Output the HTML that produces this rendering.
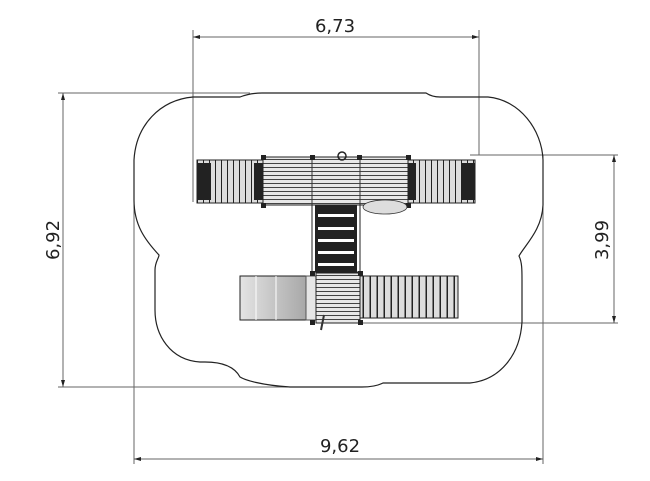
<!DOCTYPE html>
<html><head><style>html,body{margin:0;padding:0;background:#fff}svg{display:block}text{font-family:"DejaVu Sans","Liberation Sans",sans-serif;font-size:18px;fill:#222}</style></head><body>
<svg width="650" height="481" viewBox="0 0 650 481" xmlns="http://www.w3.org/2000/svg">
<defs>
<linearGradient id="sg" x1="0" x2="1"><stop offset="0" stop-color="#e4e4e4"/><stop offset="1" stop-color="#a8a8a8"/></linearGradient>
<pattern id="hs" width="4" height="4" patternUnits="userSpaceOnUse"><rect width="4" height="4" fill="#e8e8e8"/><rect y="3" width="4" height="1" fill="#444"/></pattern>
<pattern id="vs" width="6" height="6" patternUnits="userSpaceOnUse"><rect width="6" height="6" fill="#ddd"/><rect x="5" width="1.3" height="6" fill="#222"/></pattern>
<pattern id="vs2" width="7" height="7" patternUnits="userSpaceOnUse"><rect width="7" height="7" fill="#ddd"/><rect x="5.5" width="1.5" height="7" fill="#222"/></pattern>
</defs>
<g stroke="#666" stroke-width="1" fill="none">
<line x1="193" y1="37" x2="479" y2="37"/>
<line x1="193" y1="30" x2="193" y2="202"/>
<line x1="479" y1="30" x2="479" y2="155"/>
<line x1="63" y1="93" x2="63" y2="387"/>
<line x1="58" y1="93" x2="250" y2="93"/>
<line x1="58" y1="387" x2="295" y2="387"/>
<line x1="614" y1="155" x2="614" y2="323"/>
<line x1="470" y1="155" x2="618" y2="155"/>
<line x1="360" y1="323" x2="618" y2="323"/>
<line x1="134" y1="459" x2="543" y2="459"/>
<line x1="134" y1="200" x2="134" y2="464"/>
<line x1="543" y1="155" x2="543" y2="464"/>
</g>
<g fill="#222">
<path d="M193 37l7 -2v4z"/><path d="M479 37l-7 -2v4z"/>
<path d="M63 93l-2 7h4z"/><path d="M63 387l-2 -7h4z"/>
<path d="M614 155l-2 7h4z"/><path d="M614 323l-2 -7h4z"/>
<path d="M134 459l7 -2v4z"/><path d="M543 459l-7 -2v4z"/>
</g>
<path d="M240 97 Q250 93 262 93 L426 93 Q432 97 440 97 L488 97 C520 100 542 130 543 160 L543 205 C542 230 525 245 519 256 C522 262 522 270 522 280 L522 322 C520 355 500 380 470 383 L383 383 Q375 387 362 387 L290 387 C260 385 245 380 240 377 Q232 362 205 362 L200 362 C170 360 155 335 155 310 L155 270 C155 262 159 258 159 255 C145 240 134 225 134 200 L134 160 C136 125 160 100 193 97 Z" fill="none" stroke="#222" stroke-width="1.2"/>
<rect x="197" y="160" width="66" height="43" fill="url(#vs)" stroke="#222"/>
<rect x="197" y="163" width="14" height="37" fill="#222"/>
<rect x="254" y="163" width="9" height="37" fill="#222"/>
<rect x="263" y="157" width="145" height="48" fill="url(#hs)" stroke="#222"/>
<line x1="312" y1="157" x2="312" y2="205" stroke="#333"/><line x1="360" y1="157" x2="360" y2="205" stroke="#333"/>
<rect x="408" y="160" width="67" height="43" fill="url(#vs)" stroke="#222"/>
<rect x="408" y="163" width="8" height="37" fill="#222"/>
<rect x="461" y="163" width="14" height="37" fill="#222"/>
<g fill="#222"><rect x="261" y="155" width="5" height="5"/><rect x="310" y="155" width="5" height="5"/><rect x="357" y="155" width="5" height="5"/><rect x="406" y="155" width="5" height="5"/><rect x="261" y="203" width="5" height="5"/><rect x="406" y="203" width="5" height="5"/></g>
<ellipse cx="385" cy="207" rx="22" ry="7" fill="#ddd" stroke="#333" stroke-width=".8"/>
<circle cx="342" cy="156" r="4" fill="none" stroke="#222" stroke-width="1.5"/>
<rect x="312" y="205" width="48" height="67" fill="#fff" stroke="#222"/>
<rect x="315" y="205" width="42" height="67" fill="#222"/>
<g fill="#fff"><rect x="318" y="214" width="36" height="3"/><rect x="318" y="227" width="36" height="3"/><rect x="318" y="239" width="36" height="3"/><rect x="318" y="251" width="36" height="3"/><rect x="318" y="263" width="36" height="3"/></g>
<rect x="240" y="276" width="66" height="44" fill="url(#sg)" stroke="#222"/>
<line x1="256" y1="276" x2="256" y2="320" stroke="#fff"/><line x1="276" y1="276" x2="276" y2="320" stroke="#fff"/>
<rect x="306" y="276" width="10" height="44" fill="#e6e6e6" stroke="#555"/>
<rect x="316" y="273" width="44" height="50" fill="url(#hs)" stroke="#222"/>
<rect x="360" y="276" width="98" height="42" fill="url(#vs2)" stroke="#222"/>
<g fill="#222"><rect x="310" y="271" width="5" height="5"/><rect x="358" y="271" width="5" height="5"/><rect x="310" y="320" width="5" height="5"/><rect x="358" y="320" width="5" height="5"/></g>
<line x1="324" y1="315" x2="321" y2="330" stroke="#333" stroke-width="2"/>
<text x="335" y="32" text-anchor="middle">6,73</text>
<text x="340" y="452" text-anchor="middle">9,62</text>
<text transform="translate(59,240) rotate(-90)" text-anchor="middle">6,92</text>
<text transform="translate(608,240) rotate(-90)" text-anchor="middle">3,99</text>
</svg>
</body></html>
